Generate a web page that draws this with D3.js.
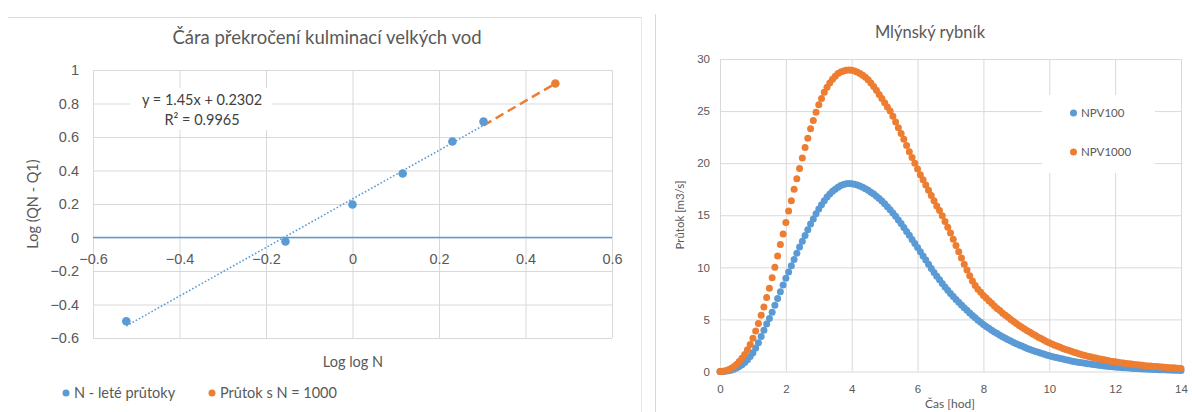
<!DOCTYPE html>
<html>
<head>
<meta charset="utf-8">
<script src="https://cdn.jsdelivr.net/npm/d3@7"></script>
<style>
  body { margin: 0; background: #fff; }
  svg { display: block; font-family: Lato, "Open Sans", sans-serif; }
  .grid line { stroke: #d9d9d9; stroke-width: 1; }
  .grid path { display: none; }
  .lbl path, .lbl line { display: none; }
  .lbl text { fill: #595959; }
</style>
</head>
<body>
<div id="chart"></div>
<script>
// ---------- left chart data ----------
var logLogN = [-0.523, -0.155, 0, 0.116, 0.231, 0.303];
var logQN = [-0.50, -0.024, 0.197, 0.382, 0.573, 0.692];
var log1000X = [0.469];
var log1000Y = [0.919];
var trendSlope = 1.45;
var trendIntercept = 0.2302;
var leftXTicks = [-0.6, -0.4, -0.2, 0, 0.2, 0.4, 0.6];
var leftYTicks = [-0.6, -0.4, -0.2, 0, 0.2, 0.4, 0.6, 0.8, 1];

// ---------- right chart data (5 min step) ----------
var stepHours = 5 / 60;
var npv100 = [
  0, 0.01, 0.03, 0.07, 0.13, 0.22, 0.33, 0.47, 0.65, 0.87, 1.13, 1.43,
  1.8, 2.25, 2.75, 3.35, 3.95, 4.55, 5.1, 5.7, 6.35, 7.0, 7.65, 8.3,
  8.95, 9.55, 10.15, 10.75, 11.35, 11.95, 12.5, 13.05, 13.6, 14.15, 14.65, 15.15,
  15.6, 16.0, 16.4, 16.75, 17.05, 17.3, 17.5, 17.7, 17.85, 17.95, 18.02, 18.05,
  18.03, 17.98, 17.9, 17.8, 17.68, 17.55, 17.4, 17.22, 17.03, 16.82, 16.6, 16.36,
  16.1, 15.82, 15.53, 15.22, 14.9, 14.55, 14.2, 13.83, 13.45, 13.07, 12.68, 12.3,
  11.9, 11.5, 11.1, 10.7, 10.3, 9.9, 9.5, 9.15, 8.8, 8.45, 8.12, 7.8,
  7.5, 7.2, 6.92, 6.65, 6.38, 6.12, 5.87, 5.62, 5.38, 5.15, 4.93, 4.72,
  4.52, 4.33, 4.15, 3.97, 3.8, 3.64, 3.48, 3.33, 3.19, 3.05, 2.92, 2.79,
  2.67, 2.55, 2.44, 2.33, 2.22, 2.12, 2.02, 1.93, 1.84, 1.75, 1.67, 1.59,
  1.52, 1.45, 1.38, 1.31, 1.25, 1.19, 1.13, 1.07, 1.02, 0.97, 0.92, 0.87,
  0.83, 0.79, 0.75, 0.71, 0.67, 0.64, 0.6, 0.57, 0.54, 0.51, 0.48, 0.46,
  0.43, 0.41, 0.39, 0.37, 0.35, 0.33, 0.31, 0.29, 0.28, 0.26, 0.25, 0.23,
  0.22, 0.21, 0.2, 0.19, 0.18, 0.17, 0.16, 0.15, 0.14, 0.13, 0.12, 0.11,
  0.1
];
var npv1000 = [
  0, 0.03, 0.08, 0.16, 0.28, 0.45, 0.68, 0.95, 1.27, 1.64, 2.1, 2.6,
  3.2, 3.9, 4.6, 5.4, 6.2, 7.1, 8.0, 9.0, 10.0, 11.1, 12.2, 13.2,
  14.3, 15.4, 16.4, 17.5, 18.5, 19.5, 20.5, 21.5, 22.4, 23.3, 24.1, 24.9,
  25.6, 26.2, 26.8, 27.3, 27.7, 28.05, 28.35, 28.6, 28.75, 28.85, 28.92, 28.95,
  28.92, 28.85, 28.75, 28.6, 28.45, 28.25, 28.0, 27.7, 27.35, 27.0, 26.6, 26.2,
  25.8, 25.4, 25.0, 24.5, 23.95, 23.4, 22.85, 22.3, 21.7, 21.1, 20.55, 20.0,
  19.45, 18.9, 18.4, 17.9, 17.4, 16.9, 16.4, 15.9, 15.45, 14.95, 14.4, 13.85,
  13.3, 12.7, 12.1, 11.5, 10.9, 10.3, 9.75, 9.2, 8.7, 8.25, 7.9, 7.6,
  7.3, 7.05, 6.8, 6.55, 6.3, 6.05, 5.85, 5.6, 5.4, 5.2, 5.0, 4.8,
  4.6, 4.42, 4.25, 4.08, 3.92, 3.76, 3.6, 3.45, 3.3, 3.16, 3.02, 2.88,
  2.75, 2.64, 2.53, 2.42, 2.32, 2.22, 2.12, 2.03, 1.94, 1.85, 1.77, 1.69,
  1.61, 1.54, 1.47, 1.41, 1.35, 1.29, 1.23, 1.18, 1.12, 1.07, 1.02, 0.97,
  0.93, 0.89, 0.85, 0.81, 0.78, 0.74, 0.71, 0.68, 0.65, 0.62, 0.59, 0.56,
  0.54, 0.52, 0.49, 0.47, 0.45, 0.43, 0.41, 0.39, 0.37, 0.35, 0.34, 0.32,
  0.3
];
var rightXTicks = [0, 2, 4, 6, 8, 10, 12, 14];
var rightYTicks = [0, 5, 10, 15, 20, 25, 30];

var blue = "#5b9bd5";
var orange = "#ed7d31";

var svg = d3.select("#chart").append("svg")
    .attr("width", 1192)
    .attr("height", 412);

// chart frames
svg.append("line").attr("x1", 8).attr("x2", 641).attr("y1", 17.5).attr("y2", 17.5)
    .attr("stroke", "#d9d9d9");
svg.append("line").attr("x1", 641.5).attr("x2", 641.5).attr("y1", 17).attr("y2", 412)
    .attr("stroke", "#e6e6e6");
svg.append("line").attr("x1", 655.5).attr("x2", 655.5).attr("y1", 14).attr("y2", 412)
    .attr("stroke", "#d9d9d9");

// =============== left chart ===============
var xL = d3.scaleLinear().domain([-0.6, 0.6]).range([93, 612]);
var yL = d3.scaleLinear().domain([-0.6, 1]).range([338, 70]);

var left = svg.append("g");

left.append("g").attr("class", "grid")
    .attr("transform", "translate(0,338)")
    .call(d3.axisBottom(xL).tickValues(leftXTicks).tickSize(-268).tickFormat(""));
left.append("g").attr("class", "grid")
    .attr("transform", "translate(93,0)")
    .call(d3.axisLeft(yL).tickValues(leftYTicks).tickSize(-519).tickFormat(""));

// zero axis line
left.append("line")
    .attr("x1", xL(-0.6)).attr("x2", xL(0.6))
    .attr("y1", yL(0)).attr("y2", yL(0))
    .attr("stroke", blue).attr("stroke-width", 1.5);

left.append("g").attr("class", "lbl")
    .attr("transform", "translate(93,0)")
    .call(d3.axisLeft(yL).tickValues(leftYTicks).tickSize(0).tickPadding(14)
        .tickFormat(d3.format("")))
    .selectAll("text").style("font-size", "14.5px");

left.append("g").attr("class", "lbl")
    .attr("transform", "translate(0," + yL(0) + ")")
    .call(d3.axisBottom(xL).tickValues(leftXTicks).tickSize(0).tickPadding(16)
        .tickFormat(d3.format("")))
    .selectAll("text").style("font-size", "14.5px");

// trendline (dotted) over data range
var xMin = d3.min(logLogN), xMax = d3.max(logLogN);
left.append("line")
    .attr("x1", xL(xMin)).attr("y1", yL(trendSlope * xMin + trendIntercept))
    .attr("x2", xL(xMax)).attr("y2", yL(trendSlope * xMax + trendIntercept))
    .attr("stroke", blue).attr("stroke-width", 1.6)
    .attr("stroke-dasharray", "1.6,2");

// extension to N = 1000 (dashed)
left.append("line")
    .attr("x1", xL(xMax)).attr("y1", yL(trendSlope * xMax + trendIntercept))
    .attr("x2", xL(log1000X[0])).attr("y2", yL(log1000Y[0]))
    .attr("stroke", orange).attr("stroke-width", 2.5)
    .attr("stroke-dasharray", "9,5");

left.selectAll(".pt").data(logLogN).enter().append("circle")
    .attr("cx", function(d) { return xL(d); })
    .attr("cy", function(d, i) { return yL(logQN[i]); })
    .attr("r", 4.3).attr("fill", blue);

left.selectAll(".pt2").data(log1000X).enter().append("circle")
    .attr("cx", function(d) { return xL(d); })
    .attr("cy", function(d, i) { return yL(log1000Y[i]); })
    .attr("r", 4.3).attr("fill", orange);

// equation label
left.append("rect").attr("x", 130).attr("y", 88).attr("width", 142).attr("height", 42)
    .attr("fill", "#fff");
left.append("text").attr("x", 202).attr("y", 105).attr("text-anchor", "middle")
    .style("font-size", "14.5px").attr("fill", "#404040")
    .text("y = 1.45x + 0.2302");
left.append("text").attr("x", 202).attr("y", 125).attr("text-anchor", "middle")
    .style("font-size", "14.5px").attr("fill", "#404040")
    .text("R² = 0.9965");

// titles
left.append("text").attr("x", 327).attr("y", 44).attr("text-anchor", "middle")
    .style("font-size", "18.5px").attr("fill", "#595959")
    .text("Čára překročení kulminací velkých vod");
left.append("text").attr("x", 353).attr("y", 367).attr("text-anchor", "middle")
    .style("font-size", "14.5px").attr("fill", "#595959")
    .text("Log log N");
left.append("text")
    .attr("transform", "translate(38,204) rotate(-90)")
    .attr("text-anchor", "middle")
    .style("font-size", "14.5px").attr("fill", "#595959")
    .text("Log (QN - Q1)");

// legend
var legL = [["N - leté průtoky", blue, 66], ["Průtok s N = 1000", orange, 212]];
legL.forEach(function(l) {
    left.append("circle").attr("cx", l[2]).attr("cy", 393).attr("r", 3.5).attr("fill", l[1]);
    left.append("text").attr("x", l[2] + 8).attr("y", 398)
        .style("font-size", "14.5px").attr("fill", "#595959").text(l[0]);
});

// =============== right chart ===============
var xR = d3.scaleLinear().domain([0, 14]).range([720, 1181]);
var yR = d3.scaleLinear().domain([0, 30]).range([371.5, 59]);

var right = svg.append("g");

right.append("g").attr("class", "grid")
    .attr("transform", "translate(0,371.5)")
    .call(d3.axisBottom(xR).tickValues(rightXTicks).tickSize(-312.5).tickFormat(""));
right.append("g").attr("class", "grid")
    .attr("transform", "translate(720,0)")
    .call(d3.axisLeft(yR).tickValues(rightYTicks).tickSize(-461).tickFormat(""));

right.append("g").attr("class", "lbl")
    .attr("transform", "translate(720,0)")
    .call(d3.axisLeft(yR).tickValues(rightYTicks).tickSize(0).tickPadding(10))
    .selectAll("text").style("font-size", "11.5px");
right.append("g").attr("class", "lbl")
    .attr("transform", "translate(0,371.5)")
    .call(d3.axisBottom(xR).tickValues(rightXTicks).tickSize(0).tickPadding(13))
    .selectAll("text").style("font-size", "11.5px");

// legend box (covers gridlines)
right.append("rect").attr("x", 1042).attr("y", 95).attr("width", 113).attr("height", 78)
    .attr("fill", "#fff");

function drawSeries(vals, color) {
    right.append("g").selectAll("circle").data(vals).enter().append("circle")
        .attr("cx", function(d, i) { return xR(i * stepHours); })
        .attr("cy", function(d) { return yR(d); })
        .attr("r", 3.5)
        .attr("fill", color);
}
drawSeries(npv100, blue);
drawSeries(npv1000, orange);

var legR = [["NPV100", blue, 113], ["NPV1000", orange, 152]];
legR.forEach(function(l) {
    right.append("circle").attr("cx", 1073.5).attr("cy", l[2]).attr("r", 3.5).attr("fill", l[1]);
    right.append("text").attr("x", 1081).attr("y", l[2] + 4)
        .style("font-size", "11.5px").attr("fill", "#595959").text(l[0]);
});

right.append("text").attr("x", 930).attr("y", 38).attr("text-anchor", "middle")
    .style("font-size", "16.5px").attr("fill", "#595959")
    .text("Mlýnský rybník");
right.append("text").attr("x", 950).attr("y", 408).attr("text-anchor", "middle")
    .style("font-size", "12px").attr("fill", "#595959")
    .text("Čas [hod]");
right.append("text")
    .attr("transform", "translate(684,215) rotate(-90)")
    .attr("text-anchor", "middle")
    .style("font-size", "11.5px").attr("fill", "#595959")
    .text("Průtok  [m3/s]");
</script>
</body>
</html>
